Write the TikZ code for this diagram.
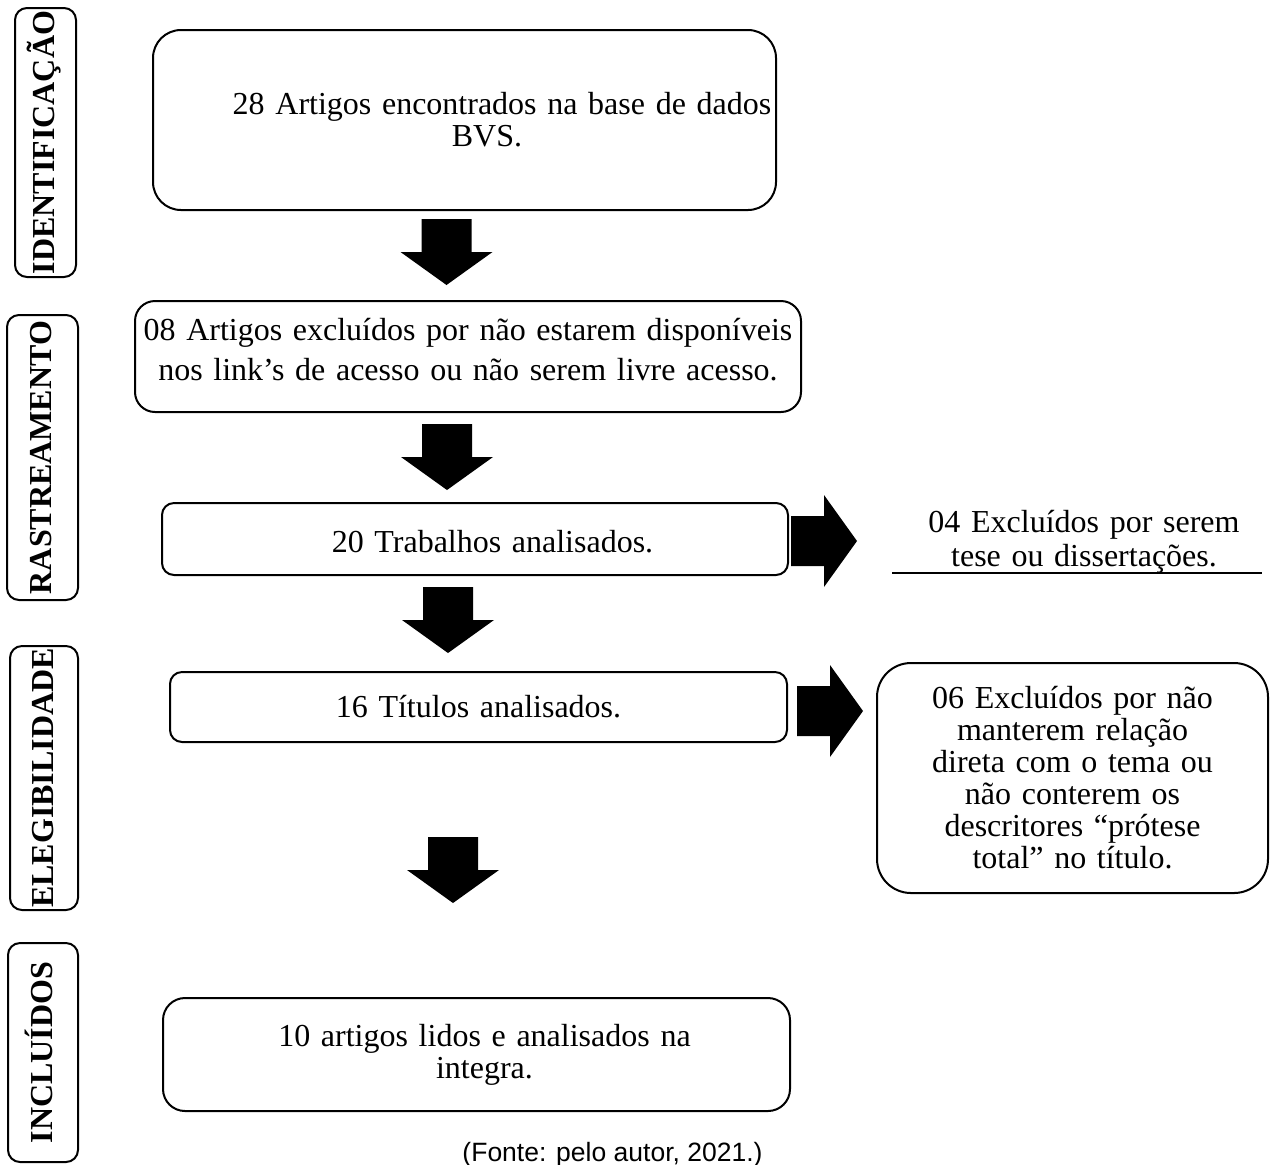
\documentclass[tikz,border=0pt]{standalone}
\usepackage{fontspec}
\setmainfont{Liberation Serif}
\newfontfamily\fontesans{Liberation Sans}
\usetikzlibrary{positioning}

\tikzset{
  pics/blockarrow/.style={code={
    \fill (0,-25) -- (33,-25) -- (33,-46) -- (66,0) -- (33,46) -- (33,25) -- (0,25) -- cycle;
  }}
}

\begin{document}
\begin{tikzpicture}[x=0.5pt, y=-0.5pt,
    box/.style={draw, line width=1pt, inner sep=0pt, align=center,
      font=\fontsize{16}{16}\selectfont},
    phase/.style={draw, line width=1pt, rounded corners=6pt, rotate=90, inner sep=0pt,
      text height=0.9em, text depth=0pt, font=\fontsize{16}{16}\selectfont\bfseries}]
    \useasboundingbox (0,0) rectangle (1272,1164);
    % Phases
    \node[phase, minimum width=134.5pt, minimum height=30.5pt] (ident) at (45.5,142.5) {IDENTIFICAÇÃO};
    \node[phase, minimum width=142.5pt, minimum height=35.5pt] (rast) at (42.5,457.5) {RASTREAMENTO};
    \node[phase, minimum width=132pt, minimum height=34pt] (eleg) at (44,778) {ELEGIBILIDADE};
    \node[phase, minimum width=109.5pt, minimum height=35pt] (incl) at (43,1052.5) {INCLUÍDOS};
    % Boxes
    \node[box, rounded corners=14pt, minimum width=311.5pt, minimum height=90pt, text width=311pt] (b1) at (464.5,120)
      {\hspace*{37.5pt}28 Artigos encontrados na base de dados\\ \hspace*{22.5pt}BVS.};
    \node[box, rounded corners=10pt, minimum width=333pt, minimum height=55.5pt, text width=330pt,
      font=\fontsize{16}{20}\selectfont] (b2) at (468,356.5)
      {08 Artigos excluídos por não estarem disponíveis\\ nos link’s de acesso ou não serem livre acesso.\rule[-7pt]{0pt}{7pt}};
    \node[box, rounded corners=6pt, minimum width=313pt, minimum height=36pt, text width=310pt] (b3) at (475,539)
      {\hspace*{17.5pt}\raisebox{-1.5pt}[\height][\depth]{20 Trabalhos analisados.}};
    \node[box, rounded corners=6pt, minimum width=308.5pt, minimum height=35pt, text width=305pt] (b4) at (478.5,707)
      {16 Títulos analisados.};
    \node[box, rounded corners=17pt, minimum width=195.5pt, minimum height=115pt, text width=190pt] (b5) at (1072.5,778)
      {06 Excluídos por não\\ manterem relação\\ direta com o tema ou\\ não conterem os\\ descritores “prótese\\ total” no título.};
    \node[box, rounded corners=11pt, minimum width=313.5pt, minimum height=56.5pt, text width=310pt] (b6) at (476.5,1054.5)
      {\hspace*{8pt}10 artigos lidos e analisados na\\ \hspace*{8pt}integra.};
    % Excluded, underlined
    \node[box, draw=none, text width=185pt, font=\fontsize{16}{17}\selectfont] (ex1) at (1084,542)
      {04 Excluídos por serem\\ tese ou dissertações.};
    \coordinate (u1) at (892,573);
    \coordinate (u2) at (1262,573);
    \draw[line width=1pt] (u1) -- (u2);
    % Block arrows
    \pic[rotate=-90] at (446.5,219) {blockarrow};
    \pic[rotate=-90] at (447,424) {blockarrow};
    \pic[rotate=-90] at (448,587) {blockarrow};
    \pic[rotate=-90] at (453,837) {blockarrow};
    \pic at (791,541) {blockarrow};
    \pic at (797,711) {blockarrow};
    % Source
    \node[anchor=base, inner sep=0pt, font=\fontsize{13.25}{15}\fontesans] (fonte) at (612.5,1161) {(Fonte: pelo autor, 2021.)};
\end{tikzpicture}
\end{document}
